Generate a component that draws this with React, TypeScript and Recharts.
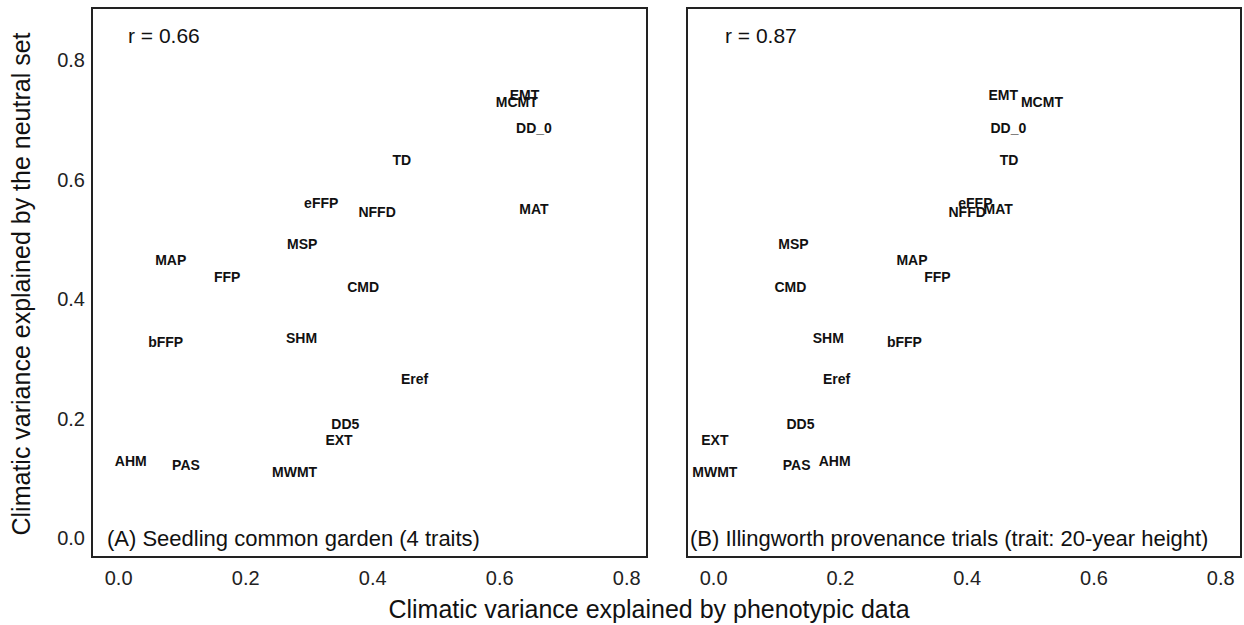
import { ReferenceArea, Scatter, ScatterChart, XAxis, YAxis } from "recharts"

const variables = ["EMT", "MCMT", "DD_0", "TD", "MAT", "eFFP", "NFFD", "MSP", "MAP", "FFP", "CMD", "bFFP", "SHM", "Eref", "DD5", "EXT", "AHM", "PAS", "MWMT"]
// y: climatic variance explained by the neutral set (same for both panels)
const neutral = [0.741, 0.730, 0.686, 0.633, 0.551, 0.561, 0.546, 0.492, 0.465, 0.437, 0.420, 0.328, 0.335, 0.266, 0.191, 0.164, 0.129, 0.122, 0.110]
// x: climatic variance explained by phenotypic data
const seedling = [0.639, 0.627, 0.654, 0.446, 0.654, 0.319, 0.407, 0.289, 0.082, 0.171, 0.385, 0.074, 0.288, 0.466, 0.357, 0.347, 0.019, 0.106, 0.277]
const illingworth = [0.457, 0.518, 0.465, 0.466, 0.449, 0.413, 0.400, 0.126, 0.313, 0.353, 0.121, 0.301, 0.181, 0.194, 0.137, 0.002, 0.191, 0.131, 0.002]
const ticks = [0, 0.2, 0.4, 0.6, 0.8]

const xDomain: [number, number] = [-0.042, 0.832]
const yDomain: [number, number] = [-0.032, 0.887]
const font = "Arial, 'Liberation Sans', Helvetica, sans-serif"

const seedlingData = variables.map((name, i) => ({ name, x: seedling[i], y: neutral[i] }))
const illingworthData = variables.map((name, i) => ({ name, x: illingworth[i], y: neutral[i] }))

const VarLabel = (props: any) => (
  <text
    x={props.cx}
    y={props.cy}
    textAnchor="middle"
    dominantBaseline="central"
    fontSize={14}
    fontWeight="bold"
    fontFamily={font}
    fill="#111"
  >
    {props.payload.name}
  </text>
)

function Panel({ data, showY, margin }: { data: any[]; showY: boolean; margin: any }) {
  return (
    <ScatterChart width={showY ? 660 : 584} height={625} margin={margin}>
      <XAxis
        type="number"
        dataKey="x"
        domain={xDomain}
        ticks={ticks}
        allowDataOverflow
        axisLine={false}
        tickLine={false}
        tickSize={0}
        tickMargin={14}
        height={30}
        tickFormatter={(v: number) => v.toFixed(1)}
        tick={{ fill: "#222", fontSize: 20, fontFamily: font }}
      />
      <YAxis
        type="number"
        dataKey="y"
        domain={yDomain}
        ticks={ticks}
        allowDataOverflow
        hide={!showY}
        axisLine={false}
        tickLine={false}
        tickSize={0}
        tickMargin={7}
        width={40}
        tickFormatter={(v: number) => v.toFixed(1)}
        tick={{ fill: "#222", fontSize: 20, fontFamily: font }}
      />
      <ReferenceArea
        x1={xDomain[0]}
        x2={xDomain[1]}
        y1={yDomain[0]}
        y2={yDomain[1]}
        fill="none"
        fillOpacity={0}
        stroke="#222"
        strokeWidth={2}
        strokeOpacity={1}
      />
      <Scatter data={data} shape={VarLabel} isAnimationActive={false} />
    </ScatterChart>
  )
}

export default function App() {
  return (
    <div style={{ position: "absolute", left: 0, top: 0, width: 1244, height: 625, background: "#fff", fontFamily: font }}>
      <div style={{ position: "absolute", left: 0, top: 0 }}>
        <Panel data={seedlingData} showY margin={{ top: 8, right: 13, bottom: 38, left: 52 }} />
      </div>
      <div style={{ position: "absolute", left: 660, top: 0 }}>
        <Panel data={illingworthData} showY={false} margin={{ top: 8, right: 3, bottom: 38, left: 27 }} />
      </div>
      <svg width={1244} height={625} style={{ position: "absolute", left: 0, top: 0, pointerEvents: "none" }}>
        <g fontFamily={font} fill="#111">
          <text x={128} y={43} fontSize={21}>r = 0.66</text>
          <text x={725} y={43} fontSize={21}>r = 0.87</text>
          <text x={107} y={546} fontSize={22}>(A) Seedling common garden (4 traits)</text>
          <text x={690} y={546} fontSize={22}>(B) Illingworth provenance trials (trait: 20-year height)</text>
          <text x={649} y={618} fontSize={25} textAnchor="middle">Climatic variance explained by phenotypic data</text>
          <text x={30} y={284} fontSize={25} textAnchor="middle" transform="rotate(-90 30 284)">
            Climatic variance explained by the neutral set
          </text>
        </g>
      </svg>
    </div>
  )
}
